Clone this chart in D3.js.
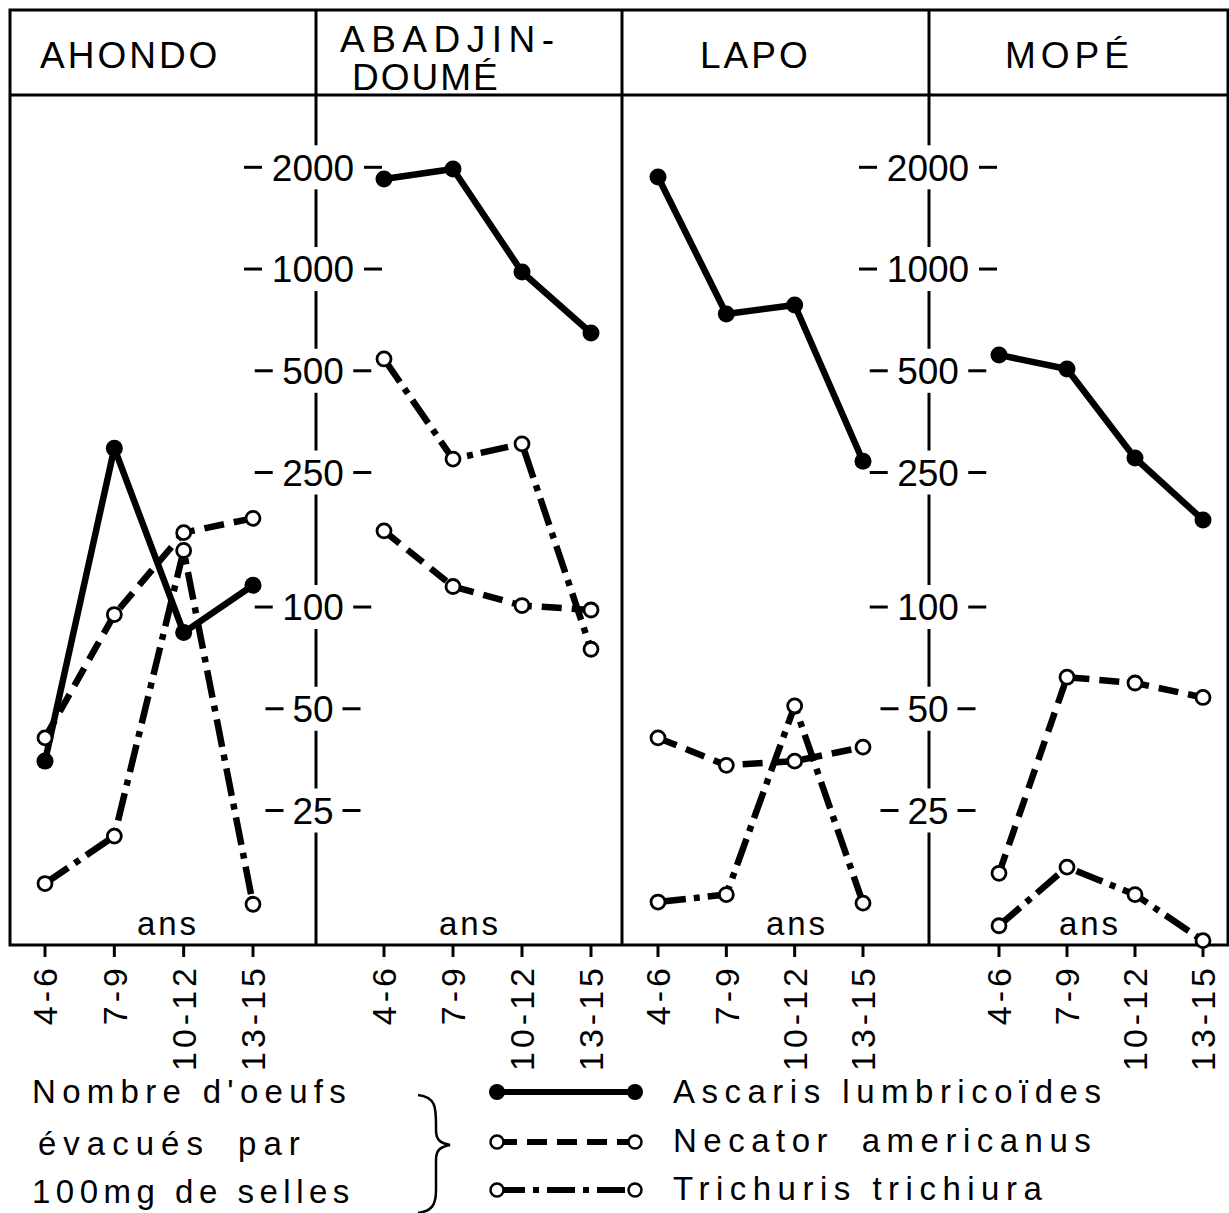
<!DOCTYPE html>
<html><head><meta charset="utf-8">
<script src="https://cdn.jsdelivr.net/npm/d3@7"></script>
<style>body{margin:0;background:#fff}svg{display:block}</style>
</head><body>
<script>
// ---- data ----
const villages = ["AHONDO", "ABADJIN-DOUMÉ", "LAPO", "MOPÉ"];
const ageGroups = ["4-6", "7-9", "10-12", "13-15"];
const yTicks = [25, 50, 100, 250, 500, 1000, 2000];
const species = ["Ascaris lumbricoïdes", "Necator americanus", "Trichuris trichiura"];
// eggs per 100 mg stool, per village, per age group
const ascaris = [
  [35, 295, 84, 116],
  [1846, 1977, 980, 647],
  [1872, 736, 783, 270],
  [557, 506, 276, 181]
];
const necator = [
  [41, 95, 166, 183],
  [168, 115, 101, 98],
  [41, 34, 35, 38.5],
  [16.3, 62, 59.6, 54]
];
const trichuris = [
  [15.2, 21, 147, 13.2],
  [542, 274, 304, 75],
  [13.4, 14.1, 51, 13.3],
  [11.4, 17, 14.1, 10.3]
];
const legendLines = ["Nombre d'oeufs", "évacués par", "100mg de selles"];
const unitLabel = "ans";

// ---- layout ----
const W = 1229, H = 1213;
const frame = {l: 10, t: 10, r: 1228, b: 945, head: 95};
const dividers = [316, 622, 929];
const panelX = [[45, 253], [384, 591], [658, 863], [999, 1203]];
const font = "'Liberation Sans', Arial, sans-serif";

const svg = d3.select("body").append("svg").attr("width", W).attr("height", H)
  .style("font-family", font);

const y = d3.scaleLog().domain([10, 3273]).range([frame.b, frame.head]);

// frame
svg.append("rect").attr("x", frame.l).attr("y", frame.t)
  .attr("width", frame.r - frame.l).attr("height", frame.b - frame.t)
  .attr("fill", "none").attr("stroke", "#000").attr("stroke-width", 3);
svg.append("line").attr("x1", frame.l).attr("x2", frame.r)
  .attr("y1", frame.head).attr("y2", frame.head).attr("stroke", "#000").attr("stroke-width", 3);
dividers.forEach(dx => svg.append("line").attr("x1", dx).attr("x2", dx)
  .attr("y1", frame.t).attr("y2", frame.b).attr("stroke", "#000").attr("stroke-width", 3));

// titles
const titles = [
  {lines: ["AHONDO"], xs: [40], ys: [68], ls: [3]},
  {lines: ["ABADJIN-", "DOUMÉ"], xs: [340, 352], ys: [52, 90], ls: [6.5, 2]},
  {lines: ["LAPO"], xs: [700], ys: [68], ls: [3]},
  {lines: ["MOPÉ"], xs: [1005], ys: [68], ls: [5]}
];
titles.forEach(t => {
  t.lines.forEach((ln, j) => {
    svg.append("text").attr("x", t.xs[j]).attr("y", t.ys[j])
      .attr("font-size", 37).attr("letter-spacing", t.ls[j]).text(ln);
  });
});

// y axes on dividers 0 and 2
[dividers[0] - 3, dividers[2] - 1].forEach(ax => {
  const g = svg.append("g");
  yTicks.forEach(v => {
    const yy = y(v);
    const label = String(v);
    const tw = label.length * 21.5;
    g.append("rect").attr("x", ax - tw / 2 - 10).attr("y", yy - 22)
      .attr("width", tw + 20).attr("height", 44).attr("fill", "#fff");
    g.append("text").attr("x", ax).attr("y", yy).attr("dy", "0.36em")
      .attr("text-anchor", "middle").attr("font-size", 37).text(label);
    g.append("line").attr("x1", ax - tw / 2 - 26).attr("x2", ax - tw / 2 - 8)
      .attr("y1", yy).attr("y2", yy).attr("stroke", "#000").attr("stroke-width", 3);
    g.append("line").attr("x1", ax + tw / 2 + 8).attr("x2", ax + tw / 2 + 26)
      .attr("y1", yy).attr("y2", yy).attr("stroke", "#000").attr("stroke-width", 3);
  });
});

const styles = [
  {data: ascaris, dash: null, filled: true},
  {data: necator, dash: "20,10", filled: false},
  {data: trichuris, dash: "28,8,6,8", filled: false}
];

villages.forEach((vName, p) => {
  const x = d3.scalePoint().domain(ageGroups).range(panelX[p]);
  const g = svg.append("g");
  // x ticks
  ageGroups.forEach(a => {
    g.append("line").attr("x1", x(a)).attr("x2", x(a)).attr("y1", frame.b).attr("y2", frame.b + 12)
      .attr("stroke", "#000").attr("stroke-width", 3);
    g.append("text").attr("transform", `translate(${x(a)},${frame.b + 19}) rotate(-90)`)
      .attr("text-anchor", "end").attr("dy", "0.36em").attr("font-size", 34)
      .attr("letter-spacing", 4).text(a);
  });
  // "ans"
  const ansX = [168, 470, 797, 1090][p];
  g.append("text").attr("x", ansX).attr("y", 935).attr("text-anchor", "middle")
    .attr("font-size", 33).attr("letter-spacing", 3).text(unitLabel);

  const line = d3.line().x((d, i) => x(ageGroups[i])).y(d => y(d));
  styles.forEach(s => {
    g.append("path").attr("d", line(s.data[p])).attr("fill", "none")
      .attr("stroke", "#000").attr("stroke-width", 6.5)
      .attr("stroke-dasharray", s.dash).attr("stroke-linejoin", "round");
  });
  styles.forEach(s => {
    g.selectAll(null).data(s.data[p]).join("circle")
      .attr("cx", (d, i) => x(ageGroups[i])).attr("cy", d => y(d))
      .attr("r", s.filled ? 8.5 : 7)
      .attr("fill", s.filled ? "#000" : "#fff")
      .attr("stroke", "#000").attr("stroke-width", s.filled ? 0 : 2.8);
  });
});

// legend text (left)
const legYs = [1103, 1155, 1203];
const legLS = [6.3, 7, 5.5];
legendLines.forEach((t, i) => {
  svg.append("text").attr("x", [32, 38, 32][i]).attr("y", legYs[i])
    .attr("font-size", 33).attr("letter-spacing", legLS[i])
    .attr("word-spacing", i === 1 ? 12 : 0).text(t);
});
// brace
svg.append("path")
  .attr("d", "M418,1095 C436,1097 436,1108 436,1125 L436,1130 C436,1140 440,1143 450,1145 C440,1147 436,1150 436,1160 L436,1190 C436,1205 432,1211 418,1213")
  .attr("fill", "none").attr("stroke", "#000").attr("stroke-width", 2.5);

// legend keys
const keyYs = [1092, 1142, 1190];
const keyTxtYs = [1103, 1152, 1200];
const keyLS = [6.5, 6.5, 6.5];
species.forEach((sp, i) => {
  const s = styles[i];
  const ky = keyYs[i];
  svg.append("line").attr("x1", 497).attr("x2", 635).attr("y1", ky).attr("y2", ky)
    .attr("stroke", "#000").attr("stroke-width", 6).attr("stroke-dasharray", s.dash);
  [497, 635].forEach(cx => svg.append("circle").attr("cx", cx).attr("cy", ky)
    .attr("r", s.filled ? 8 : 6.5).attr("fill", s.filled ? "#000" : "#fff")
    .attr("stroke", "#000").attr("stroke-width", s.filled ? 0 : 2.5));
  svg.append("text").attr("x", 673).attr("y", keyTxtYs[i])
    .attr("font-size", 33).attr("letter-spacing", keyLS[i])
    .attr("word-spacing", i === 1 ? 12 : 0).text(sp);
});
</script>
</body></html>
